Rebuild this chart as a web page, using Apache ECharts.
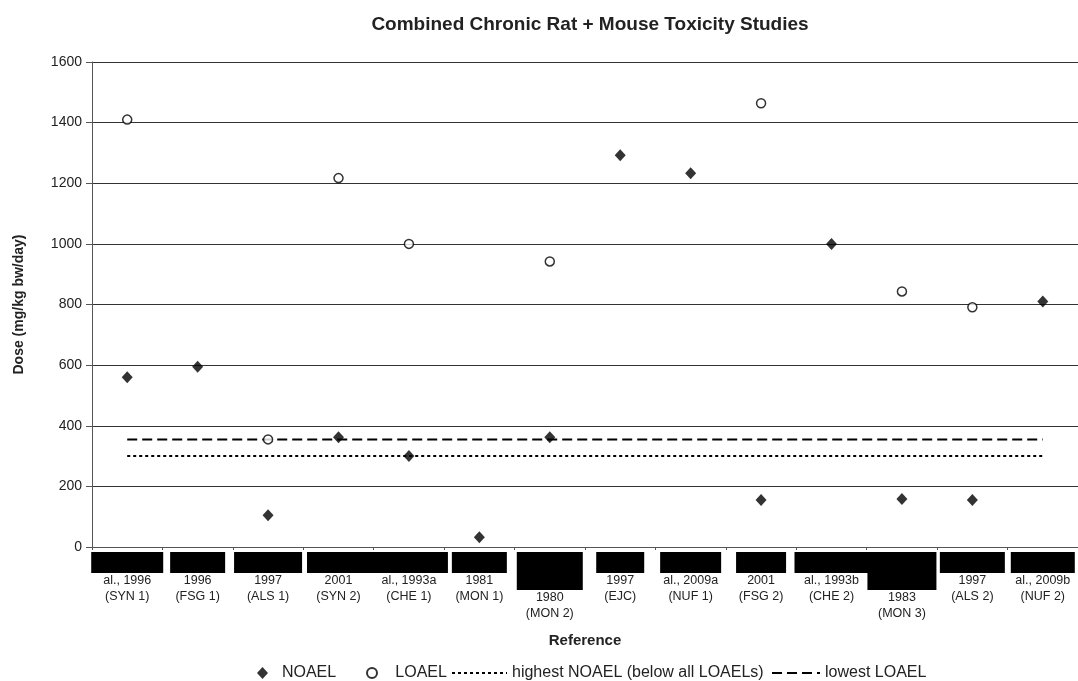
<!DOCTYPE html>
<html>
<head>
<meta charset="utf-8">
<script src="https://cdn.jsdelivr.net/npm/echarts@6/dist/echarts.min.js"></script>
<style>html,body{margin:0;padding:0;background:#fff;}#c{width:1078px;height:681px;}</style>
</head>
<body>
<div id="c"></div>
<script>
// ---- data ----
var yearLines = ['al., 1996', '1996', '1997', '2001', 'al., 1993a', '1981', '1980', '1997', 'al., 2009a', '2001', 'al., 1993b', '1983', '1997', 'al., 2009b'];
var studyCodes = ['(SYN 1)', '(FSG 1)', '(ALS 1)', '(SYN 2)', '(CHE 1)', '(MON 1)', '(MON 2)', '(EJC)', '(NUF 1)', '(FSG 2)', '(CHE 2)', '(MON 3)', '(ALS 2)', '(NUF 2)'];
var noael = [560, 595, 105, 362, 300, 32, 362, 1292, 1233, 155, 1000, 158, 155, 810];
var loael = [1410, null, 355, 1217, 1000, null, 942, null, null, 1464, null, 843, 791, null];
var highestNoaelLine = [300, 300, 300, 300, 300, 300, 300, 300, 300, 300, 300, 300, 300, 300];
var lowestLoaelLine = [355, 355, 355, 355, 355, 355, 355, 355, 355, 355, 355, 355, 355, 355];
var yTicks = {min: 0, max: 1600, interval: 200};

// ---- decoration (redaction boxes over the author line) ----
var redactWidths = [72, 55, 68, 63, 78, 55, 66, 48, 61, 50, 74, 69, 65, 64];
var redactHeights = [21, 21, 21, 21, 21, 21, 38, 21, 21, 21, 21, 38, 21, 21];

var font = 'Liberation Sans';
var categories = yearLines.map(function (y, i) { return 'c' + i; });
var rich = { t: { fontSize: 12.5, lineHeight: 16, color: '#222', fontFamily: font } };
redactWidths.forEach(function (w, i) {
  rich['b' + i] = { width: w, height: redactHeights[i], backgroundColor: '#000', fontSize: 1, lineHeight: redactHeights[i] };
});

var legendText = { fontSize: 16, color: '#222', fontFamily: font };
var chart = echarts.init(document.getElementById('c'));
chart.setOption({
  animation: false,
  backgroundColor: '#fff',
  textStyle: { fontFamily: font },
  title: {
    text: 'Combined Chronic Rat + Mouse Toxicity Studies',
    left: 585, textAlign: 'center', top: 10,
    textStyle: { fontSize: 19, fontWeight: 'bold', color: '#222', fontFamily: font }
  },
  grid: { left: 92, right: -7, top: 62, bottom: 134 },
  legend: [{
    left: 252, top: 660, itemWidth: 11, itemHeight: 12,
    textStyle: legendText, formatter: '  {name}',
    data: ['NOAEL']
  }, {
    left: 361, top: 660, itemWidth: 10, itemHeight: 10,
    textStyle: legendText, formatter: '   {name}',
    data: ['LOAEL']
  }, {
    left: 446, top: 660, itemWidth: 55, itemHeight: 12,
    textStyle: legendText,
    itemStyle: { opacity: 0 },
    data: ['highest NOAEL (below all LOAELs)']
  }, {
    left: 766, top: 660, itemWidth: 48, itemHeight: 12,
    textStyle: legendText,
    itemStyle: { opacity: 0 },
    data: ['lowest LOAEL']
  }],
  xAxis: {
    type: 'category',
    data: categories,
    name: 'Reference',
    nameLocation: 'middle',
    nameGap: 86,
    nameTextStyle: { fontSize: 15, fontWeight: 'bold', color: '#222', fontFamily: font },
    axisLine: { lineStyle: { color: '#555', width: 1 } },
    axisTick: { show: true, length: 3, lineStyle: { color: '#555' } },
    axisLabel: {
      interval: 0, margin: 5,
      formatter: function (v, i) {
        return '{b' + i + '| }\n{t|' + yearLines[i] + '}\n{t|' + studyCodes[i] + '}';
      },
      rich: rich
    }
  },
  yAxis: {
    type: 'value',
    min: yTicks.min, max: yTicks.max, interval: yTicks.interval,
    name: 'Dose (mg/kg bw/day)',
    nameLocation: 'middle',
    nameGap: 66,
    nameTextStyle: { fontSize: 14, fontWeight: 'bold', color: '#222', fontFamily: font },
    axisLine: { show: true, lineStyle: { color: '#555', width: 1 } },
    axisTick: { show: true, length: 6, lineStyle: { color: '#555' } },
    axisLabel: { fontSize: 14, color: '#222', margin: 10, fontFamily: font, formatter: function (v) { return String(v); } },
    splitLine: { lineStyle: { color: '#333', width: 1 } }
  },
  series: [{
    name: 'NOAEL', type: 'scatter', data: noael,
    symbol: 'diamond', symbolSize: [11, 12],
    itemStyle: { color: '#000' }, z: 5
  }, {
    name: 'LOAEL', type: 'scatter', data: loael,
    symbol: 'circle', symbolSize: 9,
    itemStyle: { color: '#fff', borderColor: '#000', borderWidth: 1.5 }, z: 5
  }, {
    name: 'highest NOAEL (below all LOAELs)', type: 'line', data: highestNoaelLine,
    symbol: 'none', itemStyle: { color: '#000' },
    lineStyle: { color: '#000', width: 2, type: [3, 3] }, z: 3
  }, {
    name: 'lowest LOAEL', type: 'line', data: lowestLoaelLine,
    symbol: 'none', itemStyle: { color: '#000' },
    lineStyle: { color: '#000', width: 2, type: [10, 5] }, z: 3
  }]
});
</script>
</body>
</html>
